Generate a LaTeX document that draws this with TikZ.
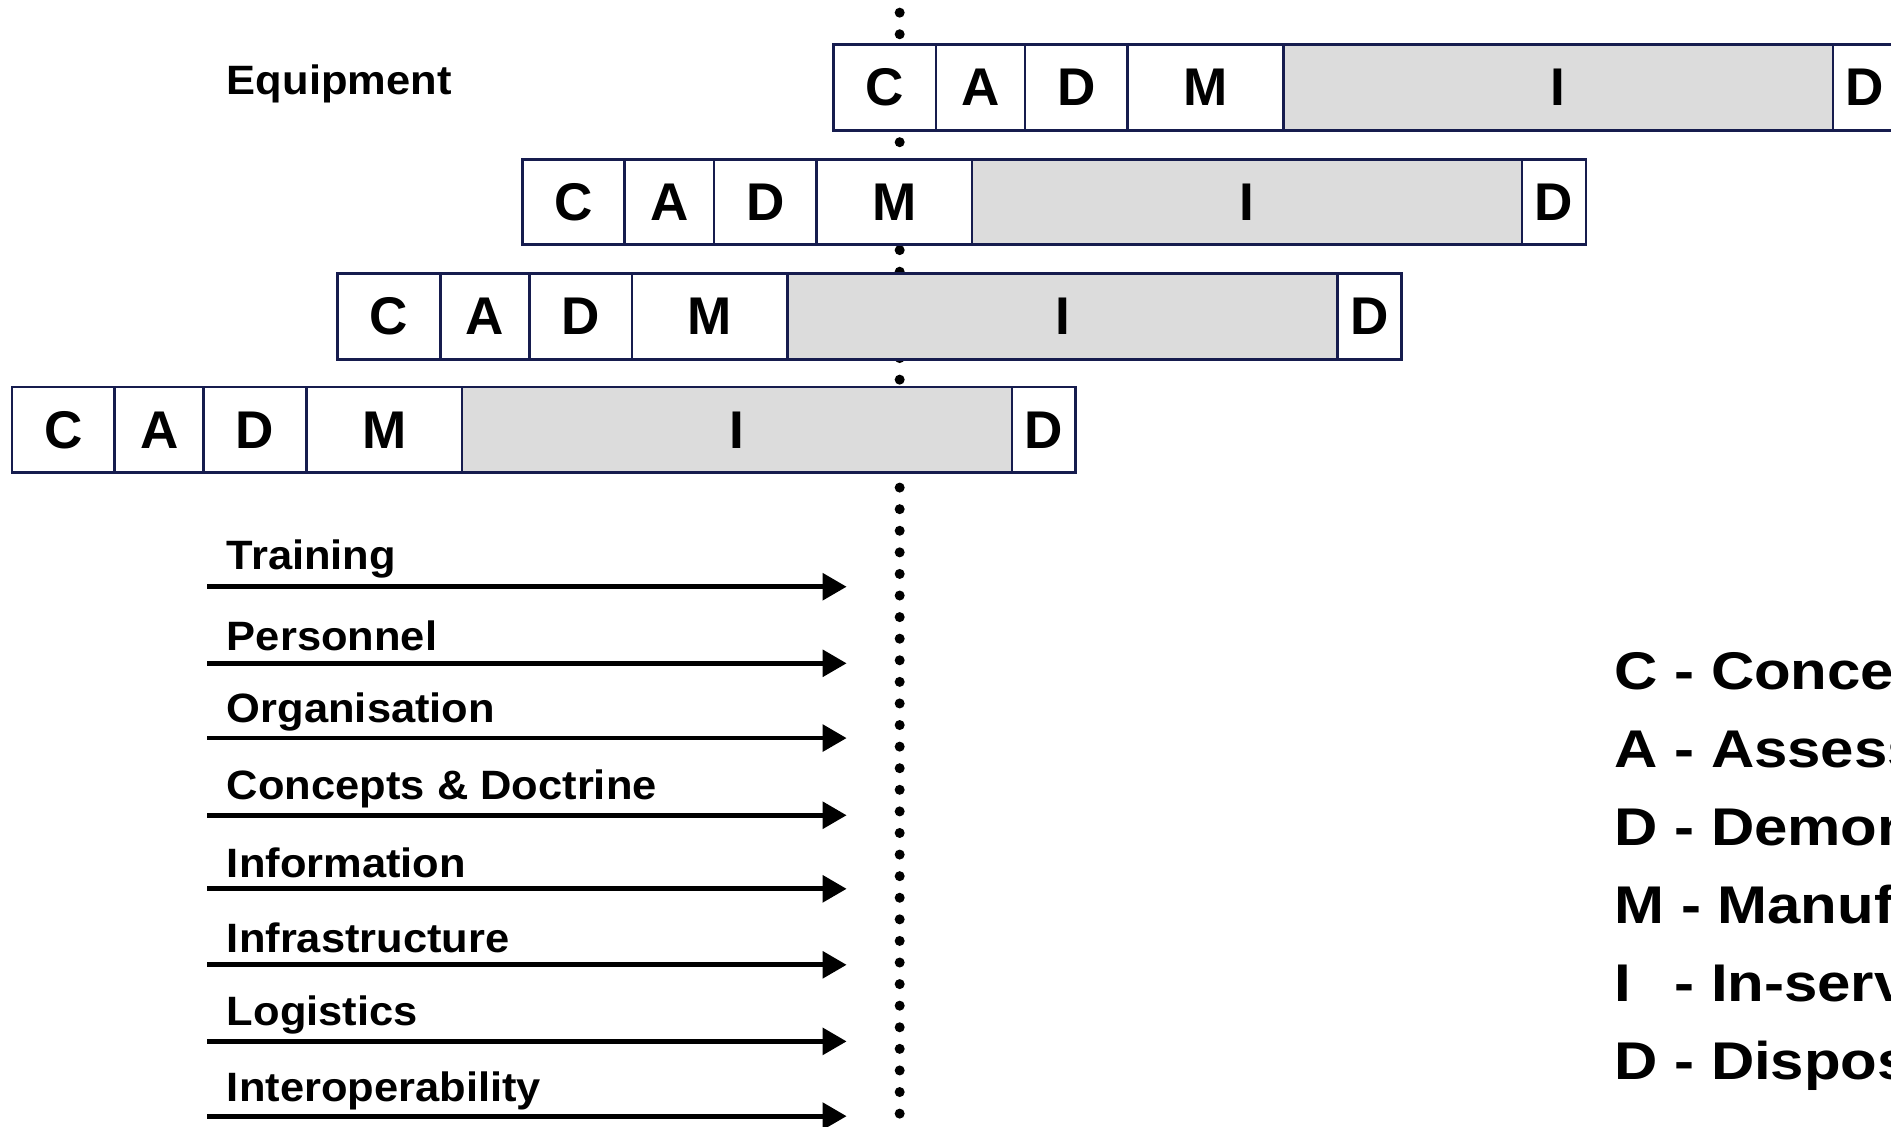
\documentclass[tikz,border=0pt]{standalone}
\usepackage{fontspec}
\setmainfont{Liberation Sans}
\newfontfamily\labelfont{Liberation Sans}[UprightFont=* Bold, FakeStretch=1.06]
\newfontfamily\keyfont{Liberation Sans}[UprightFont=* Bold, FakeStretch=1.13]
\usetikzlibrary{arrows.meta}
\definecolor{edge}{RGB}{22,28,78}
\definecolor{inservice}{RGB}{220,220,220}
\begin{document}
\begin{tikzpicture}[x=1pt,y=-1pt,
  phase/.style={draw=edge, line width=2.2pt, fill=white, minimum height=71pt,
    inner sep=0pt, outer sep=0pt, anchor=north west,
    font=\fontsize{44}{50}\selectfont\bfseries},
  lbl/.style={inner sep=0pt, anchor=base west, font=\labelfont\fontsize{34}{40}\selectfont},
  key/.style={inner sep=0pt, anchor=base west, font=\keyfont\fontsize{44}{50}\selectfont},
  flow/.style={line width=3.9pt, -{Triangle[length=20pt,width=22pt]}},
  dots/.style={line width=8.3pt, line cap=round, dash pattern=on 0pt off 17.9pt}]
\useasboundingbox (0,0) rectangle (1568,934);
\clip (0,0) rectangle (1568,934);

% milestone line (drawn first so the phase bars cover it)
\coordinate (vtop) at (746,10.5);
\coordinate (vbot) at (746,950);
\draw[dots] (vtop) -- (vbot);

% CADMID phase bars, one per generation
\foreach \row/\x/\y in {1/691/37, 2/433/132, 3/280/227, 4/10/321}{
  \foreach \k/\off/\w/\lab/\fc in {c/0/85/C/white, a/85/74/A/white, d/159/85/D/white,
      m/244/129/M/white, i/373/456/I/inservice, x/829/53/D/white}{
    \node[phase, minimum width=\w*1pt, fill=\fc] (r\row\k) at (\x+\off,\y) {\lab};
  }
}

\node[lbl] (equip) at (188,78) {Equipment};

% lines of development
\foreach \n/\t/\yb/\ya in {trn/Training/472/486.5, per/Personnel/539/550,
    org/Organisation/599/612, con/{Concepts \& Doctrine}/663/676,
    inf/Information/728/737, ifr/Infrastructure/790/800,
    log/Logistics/850/863.5, itp/Interoperability/913/925.5}{
  \node[lbl] (l\n) at (188,\yb) {\t};
  \coordinate (s\n) at (172,\ya);
  \coordinate (e\n) at (702,\ya);
  \draw[flow] (s\n) -- (e\n);
}

% key
\foreach \i/\a/\b in {0/C/Concept, 1/A/Assessment, 2/D/Demonstration,
    3/M/Manufacture, 4/{\rlap{I}\phantom{C}}/In-service, 5/D/Disposal}{
  \node[key] (k\i) at (1338.5,572+64.6*\i) {\a{} - \b};
}
\end{tikzpicture}
\end{document}
